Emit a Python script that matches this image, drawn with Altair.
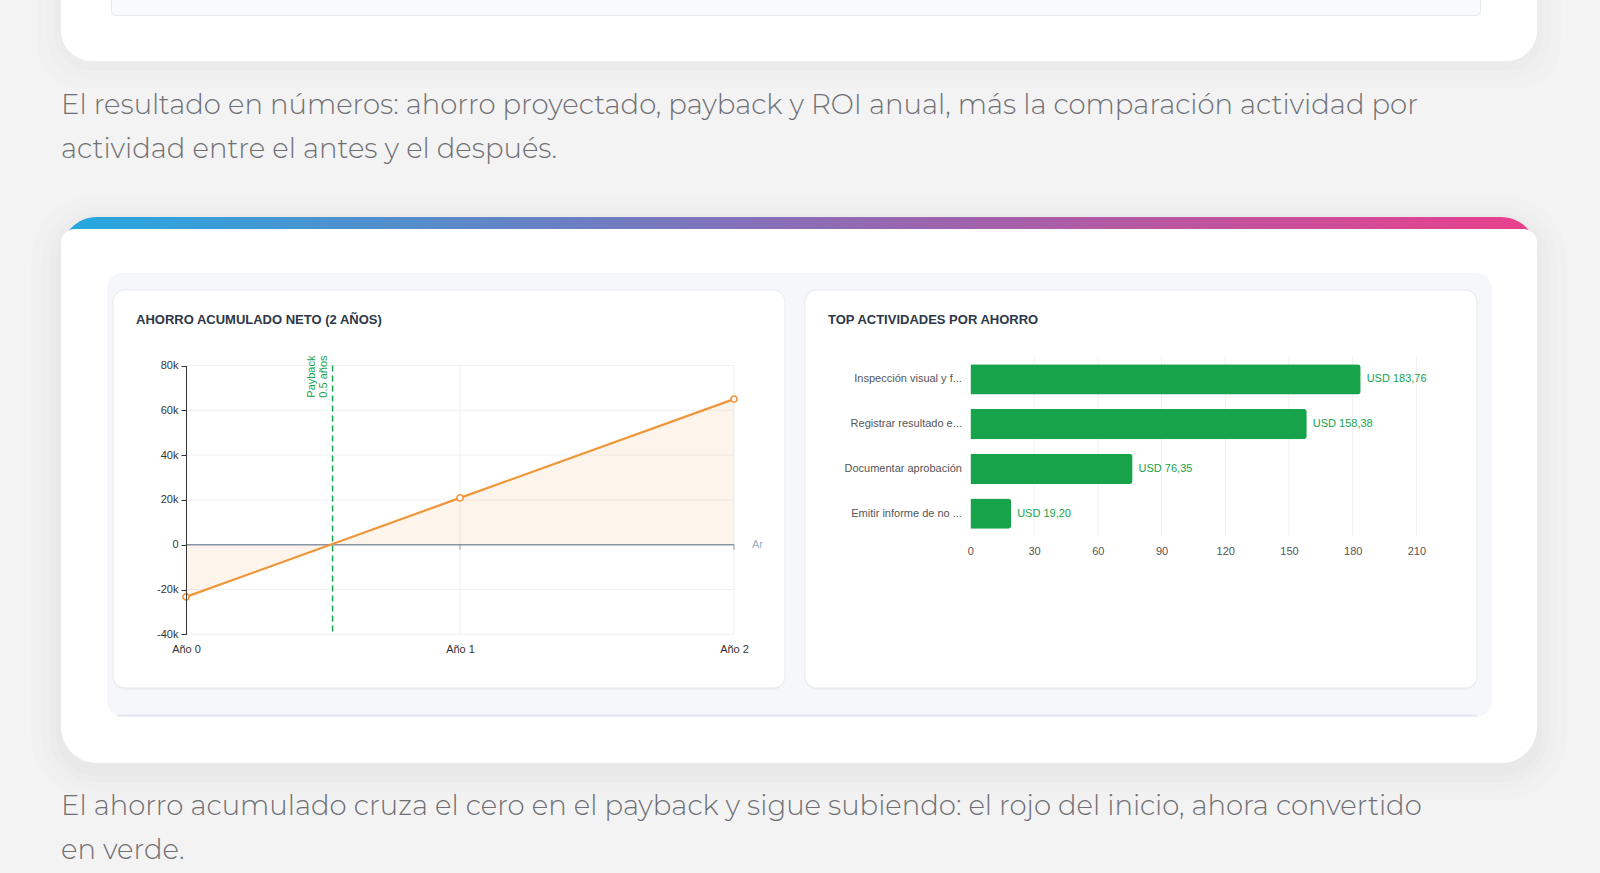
import json
import altair as alt
import pandas as pd

# ---------------- data ----------------
years = [0, 1, 2]
year_labels = ["Año 0", "Año 1", "Año 2"]
net_savings = [-23300, 20900, 65000]
payback_years = 0.535
payback_label = ["Payback", "0.5 años"]
y_ticks = [-40000, -20000, 0, 20000, 40000, 60000, 80000]
x_axis_name = "Ar"

activities = [
    "Inspección visual y f...",
    "Registrar resultado e...",
    "Documentar aprobación",
    "Emitir informe de no ...",
]
activity_savings = [183.76, 158.38, 76.35, 19.20]
bar_ticks = [0, 30, 60, 90, 120, 150, 180, 210]

intro_lines = [
    "El resultado en números: ahorro proyectado, payback y ROI anual, más la comparación actividad por",
    "actividad entre el antes y el después.",
]
outro_lines = [
    "El ahorro acumulado cruza el cero en el payback y sigue subiendo: el rojo del inicio, ahora convertido",
    "en verde.",
]
left_title = "AHORRO ACUMULADO NETO (2 AÑOS)"
right_title = "TOP ACTIVIDADES POR AHORRO"

# ---------------- layout (page pixels) ----------------
PAGE_W, PAGE_H = 1600, 873
LX, LY = 186.0, 357.0
LW, LH = 548.0, 277.3
L_TOP = 8.5
RX, RY = 970.4, 357.0
RW, RH = 446.0, 179.0

ORANGE = "#f0963a"
GREEN = "#16a34a"
AX_FONT = "Liberation Sans"
PARA_FONT = "Montserrat, 'Open Sans', sans-serif"

one = pd.DataFrame({"k": [0]})


def box(x1, y1, x2, y2, ox, oy, **mark):
    return alt.Chart(one).mark_rect(**mark).encode(
        x=alt.value(x1 - ox), x2=alt.value(x2 - ox),
        y=alt.value(y1 - oy), y2=alt.value(y2 - oy))


def label(txt, x, y, ox, oy, **mark):
    return alt.Chart(one).mark_text(text=txt, **mark).encode(
        x=alt.value(x - ox), y=alt.value(y - oy))


# ---------------- page decoration (drawn in left panel frame) ----------------
deco = []
deco.append(box(0, 0, PAGE_W, PAGE_H, LX, LY, fill="#f3f3f4"))
# previous card (cut at top)
for s, op in [(24, 0.007), (14, 0.009), (6, 0.012)]:
    deco.append(box(61 - s, 0, 1537 + s, 61 + s + 4, LX, LY, fill="#000000", opacity=op,
                    cornerRadiusBottomLeft=34 + s, cornerRadiusBottomRight=34 + s))
deco.append(box(61, 0, 1537, 61, LX, LY, fill="#ffffff",
                cornerRadiusBottomLeft=34, cornerRadiusBottomRight=34))
deco.append(box(111, 0, 1481, 16, LX, LY, fill="#e6eaf0",
                cornerRadiusBottomLeft=5, cornerRadiusBottomRight=5))
deco.append(box(112, 0, 1480, 15, LX, LY, fill="#f8fafc",
                cornerRadiusBottomLeft=4, cornerRadiusBottomRight=4))
# paragraphs
for i, line in enumerate(intro_lines):
    deco.append(label(line, 61, 106 + 44 * i, LX, LY, align="left", baseline="middle",
                      font=PARA_FONT, fontSize=27.5, fontWeight=300, color="#6f6f73"))
for i, line in enumerate(outro_lines):
    deco.append(label(line, 61, 807 + 44 * i, LX, LY, align="left", baseline="middle",
                      font=PARA_FONT, fontSize=27.5, fontWeight=300, color="#6f6f73"))
# main card with gradient top stripe
for s, op in [(30, 0.007), (20, 0.008), (12, 0.010), (5, 0.013)]:
    deco.append(box(61 - s, 217 - s + 8, 1537 + s, 763 + s + 8, LX, LY, fill="#000000",
                    opacity=op, cornerRadius=36 + s))
grad = alt.LinearGradient(
    gradient="linear", x1=0, x2=1, y1=0, y2=0,
    stops=[alt.GradientStop(color="#25a9e0", offset=0),
           alt.GradientStop(color="#8b6db6", offset=0.5),
           alt.GradientStop(color="#ea3f8c", offset=1)])
deco.append(box(61, 217, 1537, 320, LX, LY, fill=grad, cornerRadius=36))
deco.append(box(61, 229, 1537, 763, LX, LY, fill="#ffffff",
                cornerRadiusTopLeft=14, cornerRadiusTopRight=14,
                cornerRadiusBottomLeft=36, cornerRadiusBottomRight=36))
# inner container
deco.append(box(107, 273, 1492, 717, LX, LY, fill="#f5f7fa", cornerRadius=16))
deco.append(box(117, 714.5, 1477, 716.5, LX, LY, fill="#e3e8ef"))
# left card
deco.append(box(113, 291, 785, 690, LX, LY, fill="#000000", opacity=0.03, cornerRadius=12))
deco.append(box(113, 290, 785, 688, LX, LY, fill="#ffffff", stroke="#e6e9ee",
                strokeWidth=1, cornerRadius=12))
deco.append(label(left_title, 136, 320, LX, LY, align="left", baseline="middle",
                  font=AX_FONT, fontSize=13, fontWeight="bold", color="#2d3748"))

# ---------------- left chart: cumulative net savings ----------------
line_df = pd.DataFrame({"year": years, "value": net_savings, "base": 0})
ytick_df = pd.DataFrame({"v": y_ticks})
vgrid_df = pd.DataFrame({"year": years[1:], "top": y_ticks[-1], "bottom": y_ticks[0], "base": 0})
pay_df = pd.DataFrame({"year": [payback_years], "top": y_ticks[-1], "bottom": y_ticks[0]})
zero_df = pd.DataFrame({"base": [0]})
name_df = pd.DataFrame({"year": [years[-1]], "base": [0]})

x_label_expr = json.dumps(year_labels, ensure_ascii=False) + "[datum.value]"
y_label_expr = "datum.value == 0 ? '0' : (datum.value / 1000) + 'k'"

x_scale = alt.Scale(domain=[years[0], years[-1]], nice=False, zero=False)
y_scale = alt.Scale(domain=[y_ticks[0], y_ticks[-1]], range=[LH, L_TOP], nice=False, zero=False)
x_axis = alt.Axis(values=years, labelExpr=x_label_expr, domain=False, ticks=False,
                  grid=False, labelPadding=9, labelFlush=False, labelOverlap=False,
                  labelColor="#333333", labelFont=AX_FONT, labelFontSize=11, zindex=1)
y_axis = alt.Axis(values=y_ticks, labelExpr=y_label_expr, grid=False,
                  domainColor="#333333", tickColor="#333333", tickSize=5,
                  labelPadding=3, labelColor="#333333", labelFont=AX_FONT,
                  labelFontSize=11, labelOverlap=False, zindex=1)


def LXe(field):
    return alt.X(f"{field}:Q", title=None, scale=x_scale, axis=x_axis)


def LYe(field):
    return alt.Y(f"{field}:Q", title=None, scale=y_scale, axis=y_axis)


hgrid = alt.Chart(ytick_df).mark_rule(color="#eef0f3", strokeWidth=1).encode(y=LYe("v"))
vgrid = alt.Chart(vgrid_df).mark_rule(color="#eef0f3", strokeWidth=1).encode(
    x=LXe("year"), y=LYe("top"), y2=alt.Y2("bottom"))
area = alt.Chart(line_df).mark_area(color=ORANGE, opacity=0.10).encode(
    x=LXe("year"), y=LYe("value"), y2=alt.Y2("base"))
zero_line = alt.Chart(zero_df).mark_rule(color="#8a94a7", strokeWidth=1.5).encode(y=LYe("base"))
zero_ticks = alt.Chart(vgrid_df).mark_tick(orient="vertical", color="#8a94a7", size=5,
                                           thickness=1.3, yOffset=2.5).encode(
    x=LXe("year"), y=LYe("base"))
pay_rule = alt.Chart(pay_df).mark_rule(color=GREEN, strokeWidth=1.5, strokeDash=[6, 4]).encode(
    x=LXe("year"), y=LYe("top"), y2=alt.Y2("bottom"))
pay_text = alt.Chart(pay_df).mark_text(
    text=payback_label, angle=270, align="right", baseline="bottom", dx=10, dy=-16,
    lineHeight=12, font=AX_FONT, fontSize=11, color=GREEN).encode(
    x=LXe("year"), y=LYe("top"))
line = alt.Chart(line_df).mark_line(color=ORANGE, strokeWidth=2.2).encode(
    x=LXe("year"), y=LYe("value"))
pts = alt.Chart(line_df).mark_point(filled=True, fill="#ffffff", stroke=ORANGE, strokeWidth=1.6,
                                    size=38, opacity=1).encode(x=LXe("year"), y=LYe("value"))
axis_name = alt.Chart(name_df).mark_text(
    text=x_axis_name, align="left", baseline="middle", dx=18, font=AX_FONT, fontSize=11,
    color="#a3acbb").encode(x=LXe("year"), y=LYe("base"))

left = alt.layer(*deco, hgrid, vgrid, area, zero_line, zero_ticks, pay_rule, pay_text,
                 line, pts, axis_name).properties(width=LW, height=LH)

# ---------------- right chart: top activities ----------------
bar_df = pd.DataFrame({"activity": activities, "saving": activity_savings})
bar_df["label"] = ["USD " + f"{v:.2f}".replace(".", ",") for v in activity_savings]
btick_df = pd.DataFrame({"saving": bar_ticks[1:]})

rdeco = [
    box(805, 291, 1477, 690, RX, RY, fill="#000000", opacity=0.03, cornerRadius=12),
    box(805, 290, 1477, 688, RX, RY, fill="#ffffff", stroke="#e6e9ee", strokeWidth=1,
        cornerRadius=12),
    label(right_title, 828, 320, RX, RY, align="left", baseline="middle", font=AX_FONT,
          fontSize=13, fontWeight="bold", color="#2d3748"),
]

bx_scale = alt.Scale(domain=[bar_ticks[0], bar_ticks[-1]], nice=False)
bx_axis = alt.Axis(values=bar_ticks, domain=False, ticks=False, grid=False,
                   labelPadding=9, labelFlush=False, labelOverlap=False,
                   labelColor="#555555", labelFont=AX_FONT, labelFontSize=11, zindex=1)
bx = alt.X("saving:Q", title=None, scale=bx_scale, axis=bx_axis)
by = alt.Y("activity:N", title=None, sort=activities,
           scale=alt.Scale(paddingInner=0.32, paddingOuter=0.16),
           axis=alt.Axis(domain=False, ticks=False, grid=False, labelPadding=9,
                         labelColor="#555555", labelFont=AX_FONT, labelFontSize=11,
                         labelLimit=300, zindex=1))

bgrid = alt.Chart(btick_df).mark_rule(color="#eef0f3", strokeWidth=1).encode(x=bx)
bars = alt.Chart(bar_df).mark_bar(color=GREEN, cornerRadiusEnd=3).encode(x=bx, y=by)
blabels = alt.Chart(bar_df).mark_text(align="left", baseline="middle", dx=6, font=AX_FONT,
                                      fontSize=11, color=GREEN).encode(
    x=bx, y=by, text="label:N")

right = alt.layer(*rdeco, bgrid, bars, blabels).properties(width=RW, height=RH)

chart = alt.hconcat(left, right, spacing=RX - (LX + LW), bounds="flush").configure_view(
    stroke=None).properties(padding=0, background="#f3f3f4")

chart.save("out.html", embed_options={"renderer": "svg", "actions": False})
